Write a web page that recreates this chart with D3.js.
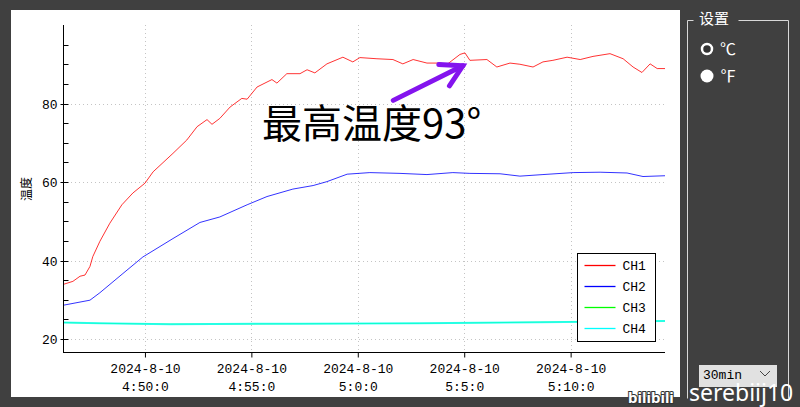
<!DOCTYPE html>
<html>
<head>
<meta charset="utf-8">
<script src="https://cdn.jsdelivr.net/npm/d3@7"></script>
<style>
  body { margin: 0; background: #404040; overflow: hidden; }
  svg { display: block; font-family: "Liberation Mono", "DejaVu Sans Mono", monospace; }
</style>
</head>
<body>
<svg width="800" height="407"></svg>
<script>
const channels = ["CH1", "CH2", "CH3", "CH4"];
const channelColors = ["#ff0000", "#0000ff", "#00ff00", "#00ffff"];

const ch1Times = ["4:46:09", "4:46:37", "4:46:57", "4:47:11", "4:47:25", "4:47:33", "4:47:53", "4:48:21", "4:48:55", "4:49:26",
    "4:50:00", "4:50:23", "4:51:19", "4:51:58", "4:52:27", "4:52:55", "4:53:09", "4:53:31", "4:54:00", "4:54:33",
    "4:54:48", "4:55:16", "4:55:58", "4:56:12", "4:56:40", "4:57:17", "4:57:37", "4:57:59", "4:58:33", "4:59:18",
    "4:59:46", "5:00:06", "5:00:54", "5:01:39", "5:02:07", "5:02:36", "5:03:15", "5:03:52", "5:04:12", "5:04:48",
    "5:05:02", "5:05:16", "5:06:04", "5:06:32", "5:07:09", "5:07:37", "5:08:14", "5:08:42", "5:09:10", "5:09:50",
    "5:10:27", "5:11:03", "5:11:51", "5:12:28", "5:12:56", "5:13:21", "5:13:44", "5:14:04", "5:14:26"];
const ch1Values = [33.9, 34.7, 36.0, 36.3, 38.5, 41.0, 44.9, 49.5, 54.2, 57.2,
    59.7, 62.6, 67.3, 70.7, 74.1, 75.9, 74.7, 76.2, 79.1, 81.3,
    81.1, 84.2, 86.1, 85.2, 87.6, 87.6, 88.6, 87.8, 90.1, 91.8,
    90.6, 91.7, 91.4, 91.2, 90.1, 91.2, 90.3, 90.3, 90.0, 92.5,
    92.9, 91.0, 91.2, 89.3, 90.3, 90.0, 89.3, 90.6, 91.0, 91.8,
    91.2, 92.0, 92.7, 91.4, 89.3, 87.9, 90.1, 88.9, 88.9];

const ch2Times = ["4:46:09", "4:47:25", "4:47:53", "4:48:58", "4:49:54", "4:51:19", "4:52:35", "4:53:31", "4:54:48", "4:55:44",
    "4:56:57", "4:57:54", "4:58:33", "4:59:30", "5:00:34", "5:01:59", "5:03:15", "5:04:28", "5:05:16", "5:06:41",
    "5:07:37", "5:08:42", "5:10:07", "5:11:23", "5:12:39", "5:13:24", "5:14:26"];
const ch2Values = [28.6, 29.9, 31.8, 36.7, 40.9, 45.6, 49.7, 51.1, 54.2, 56.3,
    58.2, 59.1, 60.1, 62.0, 62.4, 62.2, 61.9, 62.4, 62.2, 62.1,
    61.5, 61.9, 62.4, 62.5, 62.3, 61.4, 61.6];

const ch3Times = ["4:46:09", "4:47:53", "4:51:11", "4:57:17", "5:02:55", "5:08:34", "5:14:26"];
const ch3Values = [24.2, 24.0, 23.8, 23.9, 24.0, 24.3, 24.6];

const ch4Times = ["4:46:09", "4:47:53", "4:51:11", "4:57:17", "5:02:55", "5:08:34", "5:14:26"];
const ch4Values = [24.2, 24.0, 23.8, 23.9, 24.0, 24.3, 24.6];

const yMajorTicks = [20, 40, 60, 80];
const yLabel = "温度";
const noteText = "最高温度93°";
const noteArrow = [["5:01:40", 80.8], ["5:04:56", 89.6]];
const noteAnchor = ["4:55:30", 71.2];

const parseTime = d3.timeParse("%Y-%m-%d %H:%M:%S");
const toDate = t => parseTime("2024-08-10 " + t);

const series = [
    { name: channels[0], times: ch1Times, values: ch1Values },
    { name: channels[1], times: ch2Times, values: ch2Values },
    { name: channels[2], times: ch3Times, values: ch3Values },
    { name: channels[3], times: ch4Times, values: ch4Values }
].map((s, i) => ({
    name: s.name,
    color: channelColors[i],
    points: s.times.map((t, j) => ({ date: toDate(t), value: s.values[j] }))
}));

const svg = d3.select("svg");
const cjk = "Noto Sans CJK SC";

// white chart panel
svg.append("rect")
    .attr("x", 11).attr("y", 10)
    .attr("width", 669).attr("height", 387)
    .attr("fill", "#ffffff");

const x = d3.scaleTime()
    .domain([toDate(ch1Times[0]), toDate(ch1Times[ch1Times.length - 1])])
    .range([63, 665]);

const y = d3.scaleLinear()
    .domain([16.7, 100])
    .range([352, 25]);

const xTicks = x.ticks(d3.timeMinute.every(5));

// grid
const grid = svg.append("g")
    .attr("stroke", "#c4c4c4")
    .attr("stroke-dasharray", "1,3");

grid.selectAll("line.h")
    .data(yMajorTicks)
    .enter().append("line")
    .attr("x1", x.range()[0]).attr("x2", x.range()[1])
    .attr("y1", d => Math.round(y(d)) + 0.5).attr("y2", d => Math.round(y(d)) + 0.5);

grid.selectAll("line.v")
    .data(xTicks)
    .enter().append("line")
    .attr("x1", d => Math.round(x(d)) + 0.5).attr("x2", d => Math.round(x(d)) + 0.5)
    .attr("y1", y.range()[1]).attr("y2", y.range()[0]);

// lines
const line = d3.line()
    .x(d => x(d.date))
    .y(d => y(d.value));

svg.append("g")
    .selectAll("path")
    .data(series)
    .enter().append("path")
    .attr("fill", "none")
    .attr("stroke", d => d.color)
    .attr("stroke-opacity", d => d.name === "CH4" ? 0.75 : 0.8)
    .attr("stroke-width", d => d.name === "CH4" ? 2 : 1)
    .attr("d", d => line(d.points));

// x axis
const xAxis = svg.append("g")
    .attr("transform", `translate(0,${y.range()[0] + 0.5})`)
    .call(d3.axisBottom(x).tickValues(xTicks).tickSize(5).tickFormat(""));
xAxis.attr("font-family", null);
xAxis.select(".domain").attr("d", `M${x.range()[0]},0H${x.range()[1]}`);

const xLabels = xAxis.selectAll(".tick")
    .append("text")
    .attr("fill", "#000")
    .attr("font-size", 13)
    .attr("text-anchor", "middle");
xLabels.append("tspan")
    .attr("x", 0).attr("y", 20)
    .text(d => `${d.getFullYear()}-${d.getMonth() + 1}-${d.getDate()}`);
xLabels.append("tspan")
    .attr("x", 0).attr("y", 38)
    .text(d => `${d.getHours()}:${d.getMinutes()}:${d.getSeconds()}`);

// y axis: minor ticks inside, labelled major ticks
const yAxis = svg.append("g")
    .attr("transform", `translate(${x.range()[0] + 0.5},0)`);

yAxis.append("line")
    .attr("y1", y.range()[1]).attr("y2", y.range()[0])
    .attr("stroke", "#000");

yAxis.selectAll("line.minor")
    .data(d3.range(20, 100, 5).filter(v => !yMajorTicks.includes(v)))
    .enter().append("line")
    .attr("x1", 0).attr("x2", 5)
    .attr("y1", d => Math.round(y(d)) + 0.5).attr("y2", d => Math.round(y(d)) + 0.5)
    .attr("stroke", "#000");

const yMajor = yAxis.selectAll("g.major")
    .data(yMajorTicks)
    .enter().append("g")
    .attr("transform", d => `translate(0,${Math.round(y(d)) + 0.5})`);
yMajor.append("line")
    .attr("x1", -3).attr("x2", 5)
    .attr("stroke", "#000");
yMajor.append("text")
    .attr("x", -6).attr("dy", "0.35em")
    .attr("text-anchor", "end")
    .attr("font-size", 13)
    .text(d => d);

svg.append("text")
    .attr("transform", "translate(31,189) rotate(-90)")
    .attr("text-anchor", "middle")
    .attr("font-family", cjk)
    .attr("font-size", 12)
    .text(yLabel);

// legend
const legend = svg.append("g")
    .attr("transform", "translate(577.5,253.5)");
legend.append("rect")
    .attr("width", 78).attr("height", 88)
    .attr("fill", "#fff")
    .attr("stroke", "#000");
const legendItem = legend.selectAll("g.item")
    .data(series)
    .enter().append("g")
    .attr("class", "item")
    .attr("transform", (d, i) => `translate(0,${12 + i * 21})`);
legendItem.append("line")
    .attr("x1", 7).attr("x2", 38)
    .attr("stroke", d => d.color)
    .attr("stroke-width", 1.3);
legendItem.append("text")
    .attr("x", 45).attr("dy", "0.35em")
    .attr("font-size", 13)
    .text(d => d.name);

// annotation
const arrowFrom = [x(toDate(noteArrow[0][0])), y(noteArrow[0][1])];
const arrowTo = [x(toDate(noteArrow[1][0])), y(noteArrow[1][1])];
const ang = Math.atan2(arrowTo[1] - arrowFrom[1], arrowTo[0] - arrowFrom[0]);
const wing = (a) => [arrowTo[0] - 24 * Math.cos(ang + a), arrowTo[1] - 24 * Math.sin(ang + a)];

const note = svg.append("g")
    .attr("stroke", "#8414ee")
    .attr("stroke-width", 5)
    .attr("fill", "none")
    .attr("stroke-linecap", "round")
    .attr("stroke-linejoin", "miter");
note.append("line")
    .attr("x1", arrowFrom[0]).attr("y1", arrowFrom[1])
    .attr("x2", arrowTo[0]).attr("y2", arrowTo[1]);
note.append("path")
    .attr("d", d3.line()([wing(0.52), arrowTo, wing(-0.52)]));

svg.append("text")
    .attr("x", x(toDate(noteAnchor[0])))
    .attr("y", y(noteAnchor[1]))
    .attr("font-family", cjk)
    .attr("font-size", 40)
    .attr("fill", "#000")
    .text(noteText);

// settings panel
svg.append("path")
    .attr("d", "M693.5,20.5H687.5V398.5 M788.5,398.5V20.5H738.5")
    .attr("fill", "none")
    .attr("stroke", "#d8d8d8");
svg.append("text")
    .attr("x", 699).attr("y", 24)
    .attr("font-family", cjk)
    .attr("font-size", 15)
    .attr("fill", "#fff")
    .text("设置");

svg.append("circle")
    .attr("cx", 707).attr("cy", 49).attr("r", 5)
    .attr("fill", "#333").attr("stroke", "#fff").attr("stroke-width", 2.5);
svg.append("circle")
    .attr("cx", 707).attr("cy", 76).attr("r", 6.5)
    .attr("fill", "#fff");
svg.append("text")
    .attr("x", 720).attr("y", 55)
    .attr("font-family", cjk)
    .attr("font-size", 16)
    .attr("fill", "#fff")
    .text("℃");
svg.append("text")
    .attr("x", 720).attr("y", 82)
    .attr("font-family", cjk)
    .attr("font-size", 16)
    .attr("fill", "#fff")
    .text("℉");

svg.append("rect")
    .attr("x", 699).attr("y", 365)
    .attr("width", 78).attr("height", 22)
    .attr("fill", "#e1e1e1");
svg.append("text")
    .attr("x", 703).attr("y", 379)
    .attr("font-size", 13)
    .text("30min");
svg.append("path")
    .attr("d", "M760,371l5,5l5,-5")
    .attr("fill", "none")
    .attr("stroke", "#444");

// watermark
svg.append("text")
    .attr("x", 689).attr("y", 401)
    .attr("font-family", "Noto Sans")
    .attr("font-size", 23)
    .attr("fill", "#fff")
    .text("serebiij10");
svg.append("text")
    .attr("x", 628).attr("y", 403)
    .attr("font-family", "Noto Sans")
    .attr("font-weight", "bold")
    .attr("font-size", 15)
    .attr("fill", "#fff")
    .attr("stroke", "#333")
    .attr("stroke-width", 2)
    .attr("paint-order", "stroke")
    .text("bilibili");
</script>
</body>
</html>
